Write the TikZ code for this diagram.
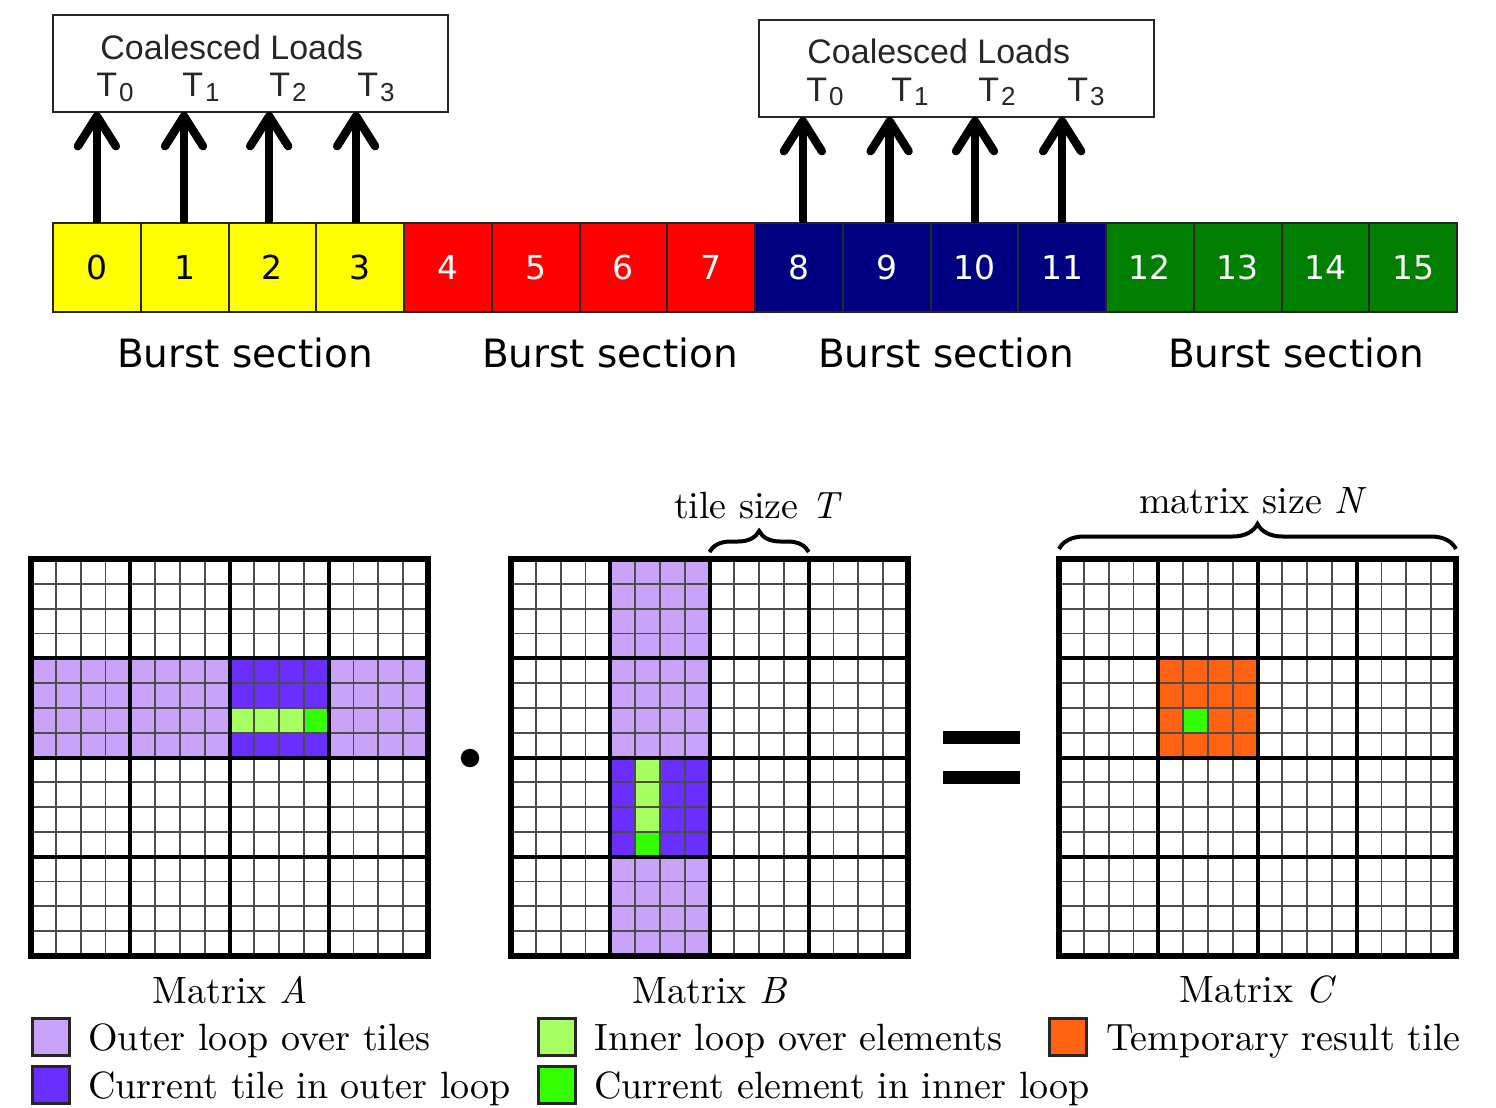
\documentclass[tikz,border=0pt]{standalone}
\usepackage{fontspec}
\setmainfont{lmroman10-regular}[Extension=.otf, ItalicFont=lmroman10-italic,
  BoldFont=lmroman10-bold, BoldItalicFont=lmroman10-bolditalic]
\newfontfamily\memfont{DejaVu Sans}
\newfontfamily\loadfont{Liberation Sans}
\usetikzlibrary{arrows.meta,decorations.pathreplacing}

\definecolor{memyellow}{HTML}{FFFF00}
\definecolor{memred}{HTML}{FF0000}
\definecolor{memblue}{HTML}{000080}
\definecolor{memgreen}{HTML}{007F00}
\definecolor{outerlav}{HTML}{C9A3F9}
\definecolor{curtile}{HTML}{6A2EFF}
\definecolor{innerlg}{HTML}{A8FF62}
\definecolor{curelem}{HTML}{33FF00}
\definecolor{restile}{HTML}{FF6311}

% thread label: T with a lowered index
\newcommand\threadlbl[1]{T\kern1pt\raisebox{-2pt}{\fontsize{13}{13}\selectfont #1}}

\tikzset{
  memcell/.style={draw=black!85, line width=1pt, minimum width=43.875pt,
    minimum height=44.5pt, inner sep=0pt, outer sep=0pt,
    font=\memfont\fontsize{16.5}{16.5}\selectfont},
  loadbox/.style={draw=black!85, line width=1pt, minimum width=197.5pt,
    minimum height=48.5pt, inner sep=0pt, outer sep=0pt},
  loadtxt/.style={font=\loadfont\fontsize{17}{17}\selectfont, text=black!85,
    inner sep=0pt, anchor=base west},
  loadarrow/.style={line width=4.2pt,
    -{Straight Barb[length=15pt,width=19pt,line cap=round,line join=round]}},
  bursttxt/.style={font=\memfont\fontsize{19.5}{19.5}\selectfont, inner sep=0pt,
    anchor=base},
  thinrule/.style={line width=0.9pt, draw=black!70},
  tilerule/.style={line width=2pt, draw=black},
  matframe/.style={line width=3pt, draw=black},
  lmtxt/.style={font=\fontsize{19}{22}\selectfont, inner sep=0pt},
  legendsq/.style={draw=black!85, line width=1.6pt, minimum width=18.5pt,
    minimum height=18.5pt, inner sep=0pt, outer sep=0pt},
  bracedeco/.style={decorate, line width=2pt}
}

% one 16x16 matrix of 4x4 tiles, 397 units wide, drawn at the current origin
\newcommand\matgrid{%
  \foreach \k in {1,...,15}{
    \draw[thinrule] ({\k*24.8125},0) -- ({\k*24.8125},397)
                    (0,{\k*24.8125}) -- (397,{\k*24.8125});
  }
  \foreach \k in {1,2,3}{
    \draw[tilerule] ({\k*99.25},0) -- ({\k*99.25},397)
                    (0,{\k*99.25}) -- (397,{\k*99.25});
  }
  \draw[matframe] (0,0) rectangle (397,397);
}

\begin{document}
\begin{tikzpicture}[x=0.5pt,y=-0.5pt]
\useasboundingbox (0,0) rectangle (1496,1108);

% ---------- memory addresses ----------
\foreach \i/\bg/\fg in {0/memyellow/black,1/memyellow/black,2/memyellow/black,3/memyellow/black,
  4/memred/white,5/memred/white,6/memred/white,7/memred/white,
  8/memblue/white,9/memblue/white,10/memblue/white,11/memblue/white,
  12/memgreen/white,13/memgreen/white,14/memgreen/white,15/memgreen/white}{
  \node[memcell, fill=\bg, text=\fg] (c\i) at ({53+87.75*\i+43.875},267.5) {\i};
}

\node[bursttxt] (burst1) at (245,367) {Burst section};
\node[bursttxt] (burst2) at (610,367) {Burst section};
\node[bursttxt] (burst3) at (946,367) {Burst section};
\node[bursttxt] (burst4) at (1296,367) {Burst section};

% ---------- coalesced loads ----------
\node[loadbox] (loadL) at (250.5,63.5) {};
\node[loadbox] (loadR) at (956.5,68.5) {};

\node[loadtxt] (titleL) at (100,60) {Coalesced Loads};
\node[loadtxt] (titleR) at (807,63) {Coalesced Loads};

\node[loadtxt] (tl0) at (96,97) {\threadlbl{0}};
\node[loadtxt] (tl1) at (182,97) {\threadlbl{1}};
\node[loadtxt] (tl2) at (269,97) {\threadlbl{2}};
\node[loadtxt] (tl3) at (357,97) {\threadlbl{3}};
\node[loadtxt] (tr0) at (806,101) {\threadlbl{0}};
\node[loadtxt] (tr1) at (891,101) {\threadlbl{1}};
\node[loadtxt] (tr2) at (978,101) {\threadlbl{2}};
\node[loadtxt] (tr3) at (1067,101) {\threadlbl{3}};

% load arrows, each rising from its memory cell into the load box
\foreach \i/\dx in {0/0,1/-0.3,2/-1.6,3/-2}{
  \draw[loadarrow] ([xshift=\dx pt]c\i.north) -- ([xshift=\dx pt]c\i.north |- loadL.south);
}
\foreach \i/\dx in {8/2,9/1.5,10/0.3,11/0}{
  \draw[loadarrow] ([xshift=\dx pt]c\i.north) -- ([xshift=\dx pt]c\i.north |- loadR.south);
}

% ---------- matrix A ----------
\begin{scope}[shift={(31,559)}]
  \fill[outerlav] (0,99.25) rectangle (397,198.5);
  \fill[curtile] (198.5,99.25) rectangle (297.75,198.5);
  \fill[innerlg] (198.5,148.875) rectangle (297.75,173.6875);
  \fill[curelem] (272.9375,148.875) rectangle (297.75,173.6875);
  \matgrid
\end{scope}

% ---------- matrix B ----------
\begin{scope}[shift={(511,559)}]
  \fill[outerlav] (99.25,0) rectangle (198.5,397);
  \fill[curtile] (99.25,198.5) rectangle (198.5,297.75);
  \fill[innerlg] (124.0625,198.5) rectangle (148.875,297.75);
  \fill[curelem] (124.0625,272.9375) rectangle (148.875,297.75);
  \matgrid
  \coordinate (tileL) at (198.5,-7);
  \coordinate (tileR) at (297.75,-7);
\end{scope}

% ---------- matrix C ----------
\begin{scope}[shift={(1059,559)}]
  \fill[restile] (99.25,99.25) rectangle (198.5,198.5);
  \fill[curelem] (124.0625,148.875) rectangle (148.875,173.6875);
  \matgrid
  \coordinate (sizeL) at (0,-10);
  \coordinate (sizeR) at (397,-10);
\end{scope}

% operators
\fill (470,758) circle (4.6pt);
\fill (943,731) rectangle (1020,744);
\fill (943,771) rectangle (1020,784);

% braces and their labels
\draw[bracedeco, decoration={brace, amplitude=10.5pt}] (tileL) -- (tileR);
\draw[bracedeco, decoration={brace, amplitude=12.5pt}] (sizeL) -- (sizeR);
\node[lmtxt, anchor=base] (tilelbl) at (758,518) {tile size \textit{T}};
\node[lmtxt, anchor=base] (sizelbl) at (1253,513) {matrix size \textit{N}};

% matrix names
\node[lmtxt, anchor=base] (nameA) at (230,1003) {Matrix \textit{A}};
\node[lmtxt, anchor=base] (nameB) at (710,1003) {Matrix \textit{B}};
\node[lmtxt, anchor=base] (nameC) at (1258,1002) {Matrix \textit{C}};

% ---------- legend ----------
\node[legendsq, fill=outerlav] (lg1) at (51,1037) {};
\node[legendsq, fill=curtile] (lg2) at (51,1085) {};
\node[legendsq, fill=innerlg] (lg3) at (557,1037) {};
\node[legendsq, fill=curelem] (lg4) at (557,1085) {};
\node[legendsq, fill=restile] (lg5) at (1068,1037) {};

\node[lmtxt, anchor=base west] (lt1) at (88,1050) {Outer loop over tiles};
\node[lmtxt, anchor=base west] (lt2) at (88,1098) {Current tile in outer loop};
\node[lmtxt, anchor=base west] (lt3) at (594,1050) {Inner loop over elements};
\node[lmtxt, anchor=base west] (lt4) at (594,1098) {Current element in inner loop};
\node[lmtxt, anchor=base west] (lt5) at (1106,1050) {Temporary result tile};
\end{tikzpicture}
\end{document}
